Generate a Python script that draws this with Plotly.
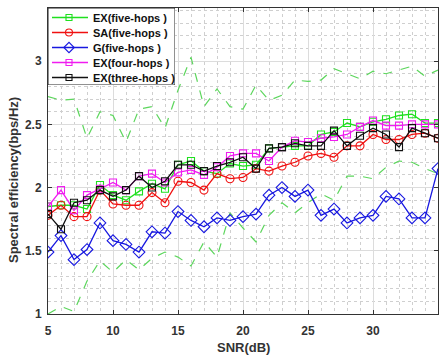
import plotly.graph_objects as go

# SNR sweep (dB)
snr = [5, 6, 7, 8, 9, 10, 11, 12, 13, 14, 15, 16, 17, 18, 19, 20,
       21, 22, 23, 24, 25, 26, 27, 28, 29, 30, 31, 32, 33, 34, 35]

# Spectral efficiency (bps/Hz)
ex_five = [1.85, 1.86, 1.86, 1.83, 2.02, 1.94, 1.90, 1.97, 2.03, 1.99, 2.18,
           2.21, 2.13, 2.11, 2.19, 2.17, 2.18, 2.31, 2.32, 2.33, 2.33, 2.42,
           2.44, 2.51, 2.48, 2.52, 2.54, 2.57, 2.58, 2.51, 2.51]
sa_five = [1.78, 1.86, 1.77, 1.77, 1.98, 1.87, 1.86, 1.86, 1.96, 1.88, 2.05,
           2.04, 1.98, 2.11, 2.07, 2.08, 2.15, 2.13, 2.17, 2.20, 2.25, 2.27,
           2.24, 2.33, 2.33, 2.42, 2.38, 2.38, 2.42, 2.43, 2.39]
g_five = [1.49, 1.62, 1.43, 1.51, 1.72, 1.58, 1.55, 1.49, 1.65, 1.64, 1.81,
          1.74, 1.69, 1.76, 1.74, 1.77, 1.79, 1.94, 2.00, 1.93, 1.98, 1.78,
          1.83, 1.72, 1.76, 1.78, 1.93, 1.91, 1.76, 1.76, 2.15]
ex_four = [1.85, 1.98, 1.82, 1.94, 1.99, 2.04, 1.98, 2.09, 2.11, 2.04, 2.12,
           2.14, 2.10, 2.16, 2.25, 2.27, 2.27, 2.21, 2.32, 2.37, 2.36, 2.39,
           2.40, 2.42, 2.48, 2.53, 2.49, 2.49, 2.50, 2.50, 2.50]
ex_three = [1.79, 1.67, 1.88, 1.90, 1.98, 1.93, 1.98, 2.09, 2.00, 2.05, 2.18,
            2.18, 2.13, 2.17, 2.20, 2.24, 2.15, 2.31, 2.32, 2.35, 2.33, 2.33,
            2.45, 2.33, 2.41, 2.47, 2.42, 2.32, 2.47, 2.43, 2.39]

# Upper / lower envelope of EX(five-hops)
ex_five_upper = [2.72, 2.69, 2.70, 2.39, 2.60, 2.57, 2.36, 2.62, 2.64, 2.47,
                 2.77, 3.03, 2.64, 2.78, 2.64, 2.62, 2.81, 2.69, 2.73, 2.85,
                 2.84, 2.85, 2.94, 2.90, 2.86, 2.92, 2.90, 2.93, 2.96, 2.88,
                 2.93]
ex_five_lower = [1.00, 1.06, 1.02, 1.26, 1.42, 1.33, 1.43, 1.35, 1.44, 1.49,
                 1.45, 1.38, 1.57, 1.45, 1.80, 1.68, 1.57, 1.78, 1.88, 1.80,
                 1.88, 1.95, 1.90, 2.09, 2.09, 2.07, 2.16, 2.21, 2.20, 2.15,
                 2.11]

x_ticks = [5, 10, 15, 20, 25, 30, 35]
y_ticks = [1, 1.5, 2, 2.5, 3]

FONT = "Liberation Sans, Arial, Helvetica, sans-serif"
GREEN = "#1fe01f"
DASH_GREEN = "#5cd65c"
RED = "#f01010"
BLUE = "#1818e0"
MAGENTA = "#f01cf0"
BLACK = "#111111"

series = [
    ("EX(five-hops )", ex_five, GREEN, "square-open"),
    ("SA(five-hops )", sa_five, RED, "circle-open"),
    ("G(five-hops )", g_five, BLUE, "diamond-open"),
    ("EX(four-hops )", ex_four, MAGENTA, "square-open"),
    ("EX(three-hops )", ex_three, BLACK, "square-open"),
]
marker_size = {"square-open": 7, "circle-open": 8, "diamond-open": 9}

fig = go.Figure()

for bound in (ex_five_upper, ex_five_lower):
    fig.add_trace(go.Scatter(
        x=snr, y=bound, mode="lines", showlegend=False,
        line=dict(color=DASH_GREEN, width=1.2, dash="dash"),
        hoverinfo="skip"))

for name, vals, color, sym in series:
    fig.add_trace(go.Scatter(
        x=snr, y=vals, mode="lines+markers", name=name, showlegend=False,
        line=dict(color=color, width=1.3),
        marker=dict(symbol=sym, size=marker_size[sym], color=color,
                    line=dict(color=color, width=1.1))))

# Legend box drawn on its own small overlay axes (units: pixels of the box)
LEG_W, LEG_H, ROW = 127, 77, 15
for i, (name, vals, color, sym) in enumerate(series):
    yy = 9.5 + ROW * i
    fig.add_trace(go.Scatter(
        x=[4, 40], y=[yy, yy], xaxis="x2", yaxis="y2", mode="lines",
        line=dict(color=color, width=1.3), showlegend=False,
        hoverinfo="skip"))
    fig.add_trace(go.Scatter(
        x=[21], y=[yy], xaxis="x2", yaxis="y2", mode="markers",
        marker=dict(symbol=sym, size=marker_size[sym] - 1, color=color,
                    line=dict(color=color, width=1.1)),
        showlegend=False, hoverinfo="skip"))
    fig.add_annotation(
        x=43, y=yy, xref="x2", yref="y2", text=name, showarrow=False,
        xanchor="left", yanchor="middle",
        font=dict(family=FONT, size=11, color="#111111", weight="bold"))

fig.add_shape(type="rect", xref="x2", yref="y2", x0=0, x1=LEG_W, y0=0,
              y1=LEG_H, fillcolor="white", line=dict(color="#222222",
                                                     width=1),
              layer="between")

axis_common = dict(
    showline=True, linecolor="#333333", linewidth=1, mirror="allticks",
    ticks="inside", ticklen=4, tickcolor="#333333",
    showgrid=True, gridcolor="#dcdcdc", gridwidth=1, zeroline=False,
    tickfont=dict(family=FONT, size=12, color="#333333", weight="bold"),
)

fig.update_layout(
    width=442, height=358,
    margin=dict(l=48, r=4, t=8, b=44),
    paper_bgcolor="white", plot_bgcolor="white",
    showlegend=False,
    xaxis=dict(range=[5, 35], tickvals=x_ticks,
               ticklabelstandoff=6,
               minor=dict(dtick=1, showgrid=True, gridcolor="#cfcfcf",
                          griddash="dot", gridwidth=1, ticks=""),
               **axis_common),
    yaxis=dict(range=[1, 3.42], tickvals=y_ticks,
               ticktext=["1", "1.5", "2", "2.5", "3"],
               ticklabelstandoff=3,
               minor=dict(dtick=0.1, showgrid=True, gridcolor="#cfcfcf",
                          griddash="dot", gridwidth=1, ticks=""),
               **axis_common),
    xaxis2=dict(domain=[0, LEG_W / 390], range=[0, LEG_W], visible=False,
                anchor="y2", fixedrange=True),
    yaxis2=dict(domain=[1 - LEG_H / 306, 1], range=[LEG_H, 0],
                visible=False, anchor="x2", fixedrange=True),
)

fig.add_annotation(
    x=0.5, y=-0.108, xref="paper", yref="paper", text="SNR(dB)",
    showarrow=False, xanchor="center", yanchor="middle",
    font=dict(family=FONT, size=13, color="#333333", weight="bold"))
fig.add_annotation(
    x=-0.087, y=0.438, xref="paper", yref="paper",
    text="Spectral efficiency(bps/Hz)", textangle=-90,
    showarrow=False, xanchor="center", yanchor="middle",
    font=dict(family=FONT, size=13, color="#333333", weight="bold"))

fig.write_html("out.html")
